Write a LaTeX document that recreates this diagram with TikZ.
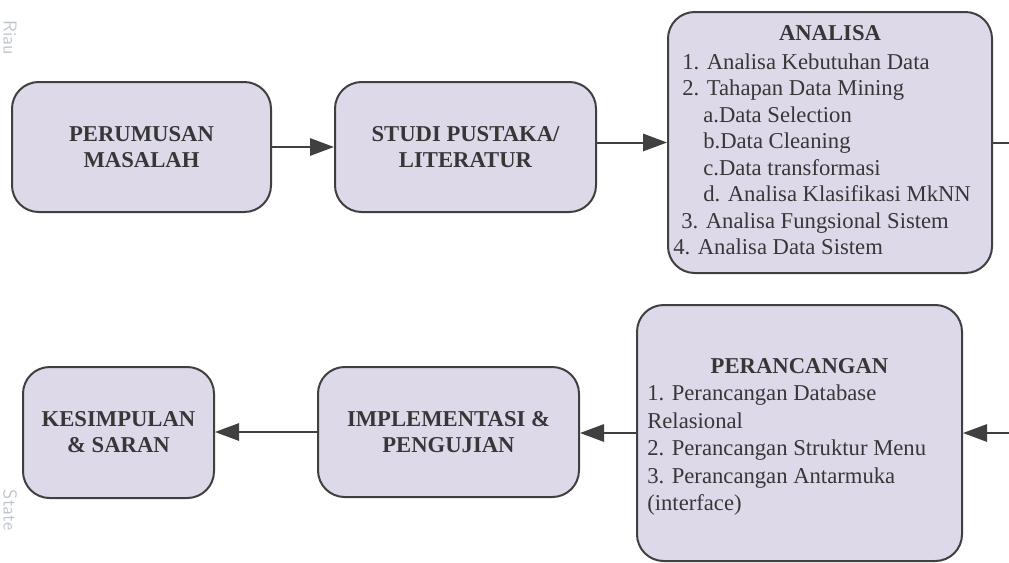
\documentclass[tikz,border=0pt]{standalone}
\usepackage{fontspec}
\setmainfont{Liberation Serif}
\usetikzlibrary{arrows.meta}
\definecolor{boxfill}{RGB}{222,217,232}
\definecolor{boxline}{RGB}{64,64,64}
\definecolor{txt}{RGB}{55,55,55}
\definecolor{wm}{RGB}{190,198,205}
\begin{document}
\begin{tikzpicture}[x=0.75pt,y=-0.75pt,
  stage/.style={draw=boxline, line width=1.5pt, fill=boxfill, rounded corners=20pt,
    inner sep=0pt, text=txt, font=\fontsize{17}{19.5}\selectfont\bfseries, align=center},
  conn/.style={draw=boxline, line width=1.5pt},
  arr/.style={conn, -{Triangle[length=18pt,width=13pt]}},
  item/.style={anchor=base west, inner sep=0pt, text=txt, font=\fontsize{17}{20}\selectfont},
  ttl/.style={anchor=base, inner sep=0pt, text=txt, font=\fontsize{17}{20}\selectfont\bfseries},
  wmark/.style={rotate=-90, inner sep=0pt, text=wm, font=\sffamily\fontsize{14}{14}\selectfont}]
\useasboundingbox (0,0) rectangle (1009,562);
% faint watermark text at the left edge
\node[wmark] (wm1) at (10,38) {Riau};
\node[wmark] (wm2) at (10,510) {State};
% stages
\node[stage, minimum width=194.25pt, minimum height=97.5pt] (perumusan) at (141.5,147) {PERUMUSAN\\MASALAH};
\node[stage, minimum width=195.75pt, minimum height=97.5pt] (studi) at (465.5,147) {STUDI PUSTAKA/\\LITERATUR};
\node[stage, minimum width=243pt, minimum height=195.75pt] (analisa) at (830,142.5) {};
\node[stage, minimum width=243.75pt, minimum height=192pt] (peranc) at (799.5,433) {};
\node[stage, minimum width=195.75pt, minimum height=97.5pt] (impl) at (448.5,432) {IMPLEMENTASI \&\\PENGUJIAN};
\node[stage, minimum width=143.25pt, minimum height=98.25pt] (kesimp) at (118.5,432.5) {KESIMPULAN\\\& SARAN};
% ANALISA contents
\node[ttl] (atitle) at (830,40.5) {ANALISA};
\node[item] (a1) at (682,69.5) {1. Analisa Kebutuhan Data};
\node[item] (a2) at (682,95.9) {2. Tahapan Data Mining};
\node[item] (a3) at (703,122.3) {a.Data Selection};
\node[item] (a4) at (703,148.8) {b.Data Cleaning};
\node[item] (a5) at (703,175.2) {c.Data transformasi};
\node[item] (a6) at (703,201.6) {d. Analisa Klasifikasi MkNN};
\node[item] (a7) at (681,228.1) {3. Analisa Fungsional Sistem};
\node[item] (a8) at (673,254.5) {4. Analisa Data Sistem};
% PERANCANGAN contents
\node[ttl] (ptitle) at (799.5,373.5) {PERANCANGAN};
\node[item] (p1) at (647,400.5) {1. Perancangan Database};
\node[item] (p2) at (647,428) {Relasional};
\node[item] (p3) at (647,455.5) {2. Perancangan Struktur Menu};
\node[item] (p4) at (647,483) {3. Perancangan Antarmuka};
\node[item] (p5) at (647,510.5) {(interface)};
% connectors
\coordinate (outA) at (1009,142.5);
\coordinate (inP) at (1009,433);
\draw[arr] (perumusan.east) -- (studi.west);
\draw[arr] (studi.east |- analisa.west) -- (analisa.west);
\draw[conn] (analisa.east) -- (outA);
\draw[arr] (inP) -- (peranc.east);
\draw[arr] (peranc.west) -- (peranc.west -| impl.east);
\draw[arr] (impl.west) -- (impl.west -| kesimp.east);
\end{tikzpicture}
\end{document}
